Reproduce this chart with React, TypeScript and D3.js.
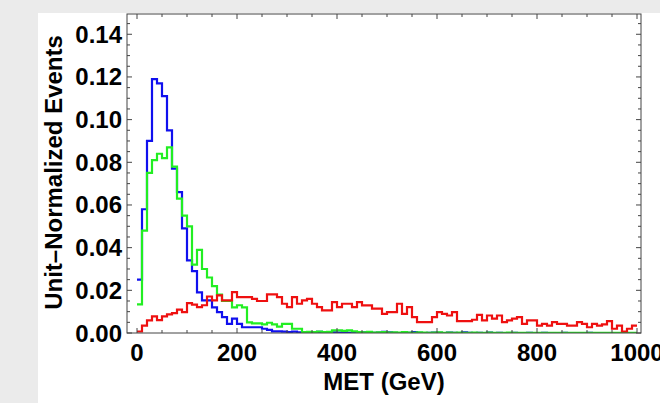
import React from "react";
import * as d3 from "d3";

// Bin edges: 100 bins of 10 GeV from 0 to 1000
const binWidth = 10;
const xTicksMajor = [0, 200, 400, 600, 800, 1000];
const yTicksMajor = [0, 0.02, 0.04, 0.06, 0.08, 0.1, 0.12, 0.14];
const yTickLabels = ["0.00", "0.02", "0.04", "0.06", "0.08", "0.10", "0.12", "0.14"];

const blueValues = [
  0.025, 0.058, 0.09, 0.119, 0.117, 0.111, 0.095, 0.077, 0.066, 0.049,
  0.034, 0.029, 0.019, 0.0153, 0.0153, 0.012, 0.0098, 0.0074, 0.0043, 0.0067,
  0.0043, 0.0027, 0.0027, 0.0027, 0.0027, 0.002, 0.0015, 0.0008, 0.0008, 0.0006,
  0.0004, 0.0006, 0.0003, 0.0004, 0.0002, 0.0003, 0.0005, 0.0002, 0.0001, 0.0003,
  0.0002, 0.0004, 0.0001, 0.0002, 0.0001, 0.0003, 0.0001, 0.0001, 0.0002, 0.0005,
  0.0003, 0.0001, 0.0, 0.0002, 0.0001, 0.0004, 0.0001, 0.0, 0.0001, 0.0002,
  0.0001, 0.0, 0.0002, 0.0001, 0.0, 0.0003, 0.0001, 0.0, 0.0001, 0.0,
  0.0002, 0.0, 0.0001, 0.0, 0.0, 0.0001, 0.0, 0.0, 0.0001, 0.0,
  0.0, 0.0001, 0.0, 0.0, 0.0, 0.0001, 0.0, 0.0, 0.0, 0.0,
  0.0001, 0.0, 0.0, 0.0, 0.0, 0.0, 0.0, 0.0, 0.0, 0.0,
];

const greenValues = [
  0.0134, 0.048, 0.075, 0.081, 0.084, 0.082, 0.087, 0.078, 0.063, 0.055,
  0.05, 0.032, 0.039, 0.03, 0.026, 0.022, 0.018, 0.015, 0.015, 0.012,
  0.013, 0.012, 0.005, 0.0045, 0.0045, 0.004, 0.0048, 0.004, 0.003, 0.0043,
  0.0043, 0.002, 0.002, 0.0004, 0.0005, 0.0004, 0.0006, 0.0004, 0.0005, 0.0012,
  0.0012, 0.001, 0.0012, 0.0008, 0.0004, 0.0003, 0.0005, 0.0002, 0.0003, 0.0004,
  0.0002, 0.0003, 0.0002, 0.0004, 0.0002, 0.0001, 0.0003, 0.0002, 0.0001, 0.0002,
  0.0003, 0.0001, 0.0002, 0.0001, 0.0002, 0.0001, 0.0001, 0.0002, 0.0001, 0.0001,
  0.0002, 0.0001, 0.0001, 0.0001, 0.0002, 0.0001, 0.0001, 0.0001, 0.0001, 0.0001,
  0.0001, 0.0001, 0.0001, 0.0001, 0.0001, 0.0001, 0.0001, 0.0001, 0.0001, 0.0001,
  0.0001, 0.0001, 0.0001, 0.0001, 0.0001, 0.0001, 0.0001, 0.0001, 0.0001, 0.0001,
];

const redValues = [
  0.0007, 0.0035, 0.0059, 0.0078, 0.006, 0.0078, 0.0087, 0.0093, 0.011, 0.0098,
  0.014, 0.0133, 0.0121, 0.013, 0.0171, 0.0153, 0.0176, 0.0153, 0.0153, 0.0192,
  0.0168, 0.0168, 0.0168, 0.016, 0.015, 0.015, 0.0181, 0.0181, 0.0168, 0.0137,
  0.0121, 0.0168, 0.0137, 0.0153, 0.016, 0.0137, 0.0121, 0.0106, 0.0106, 0.0145,
  0.0121, 0.0137, 0.0137, 0.0121, 0.0145, 0.0129, 0.0129, 0.0114, 0.0114, 0.009,
  0.0098, 0.0098, 0.0137, 0.009, 0.0121, 0.0074, 0.0051, 0.0051, 0.0051, 0.0074,
  0.0098, 0.009, 0.0082, 0.0098, 0.0056, 0.0056, 0.0056, 0.0062, 0.0085, 0.0059,
  0.0082, 0.0067, 0.0082, 0.0051, 0.0059, 0.0067, 0.0074, 0.0043, 0.0059, 0.0059,
  0.0035, 0.0043, 0.0035, 0.0051, 0.0043, 0.0043, 0.0035, 0.0035, 0.0051, 0.0043,
  0.0027, 0.0043, 0.0035, 0.004, 0.0056, 0.002, 0.0035, 0.0007, 0.002, 0.0035,
];

const seriesList = [
  { name: "blue", color: "#1010ee", values: blueValues },
  { name: "green", color: "#22ee22", values: greenValues },
  { name: "red", color: "#ee1010", values: redValues },
];

const W = 660;
const H = 403;
const frame = { left: 127, right: 641, top: 14, bottom: 333 };
const FONT = "'Liberation Sans', Arial, sans-serif";

export default function App() {
  const x = d3.scaleLinear().domain([-20, 1008]).range([frame.left, frame.right]);
  const y = d3.scaleLinear().domain([0, 0.1495]).range([frame.bottom, frame.top]);

  const line = d3
    .line<[number, number]>()
    .x((d) => x(d[0]))
    .y((d) => y(d[1]))
    .curve(d3.curveStepAfter);

  const pathFor = (vals: number[]) => {
    const pts: [number, number][] = vals.map((v, i) => [i * binWidth, v]);
    pts.push([vals.length * binWidth, vals[vals.length - 1]]);
    return line(pts) || "";
  };

  const xMinor = d3.range(0, 1001, 50);
  const yMinor = d3.range(0, 0.1496, 0.005);
  const frameColor = "#444";

  return (
    <svg
      width={W}
      height={H}
      style={{ position: "absolute", left: 0, top: 0 }}
      fontFamily={FONT}
    >
      <rect x={0} y={0} width={W} height={H} fill="#ebebeb" />
      <rect x={38} y={13} width={W - 38} height={H - 13} fill="#ffffff" />

      <defs>
        <clipPath id="plotclip">
          <rect
            x={frame.left}
            y={frame.top}
            width={frame.right - frame.left}
            height={frame.bottom - frame.top}
          />
        </clipPath>
      </defs>

      <g clipPath="url(#plotclip)">
        {seriesList.map((s) => (
          <path
            key={s.name}
            d={pathFor(s.values)}
            fill="none"
            stroke={s.color}
            strokeWidth={2.2}
            strokeLinejoin="miter"
          />
        ))}
      </g>

      {/* frame */}
      <rect
        x={frame.left}
        y={frame.top}
        width={frame.right - frame.left}
        height={frame.bottom - frame.top}
        fill="none"
        stroke={frameColor}
        strokeWidth={1}
      />

      {/* x ticks bottom & top */}
      {xMinor.map((t) => {
        const major = t % 200 === 0;
        const len = major ? 5 : 3;
        return (
          <g key={"xt" + t} stroke={frameColor} strokeWidth={1}>
            <line x1={x(t)} x2={x(t)} y1={frame.bottom} y2={frame.bottom - len} />
            <line x1={x(t)} x2={x(t)} y1={frame.top} y2={frame.top + len} />
          </g>
        );
      })}
      {/* y ticks left & right */}
      {yMinor.map((t, i) => {
        const major = i % 4 === 0;
        const len = major ? 5 : 3;
        return (
          <g key={"yt" + i} stroke={frameColor} strokeWidth={1}>
            <line x1={frame.left} x2={frame.left + len} y1={y(t)} y2={y(t)} />
            <line x1={frame.right} x2={frame.right - len} y1={y(t)} y2={y(t)} />
          </g>
        );
      })}

      {/* x tick labels */}
      {xTicksMajor.map((t) => (
        <text
          key={"xl" + t}
          x={x(t)}
          y={361}
          textAnchor="middle"
          fontSize={24}
          fontWeight="bold"
          fill="#000"
        >
          {t}
        </text>
      ))}
      {/* y tick labels */}
      {yTicksMajor.map((t, i) => (
        <text
          key={"yl" + i}
          x={122}
          y={y(t) + 8.5}
          textAnchor="end"
          fontSize={24}
          fontWeight="bold"
          fill="#000"
        >
          {yTickLabels[i]}
        </text>
      ))}

      <text
        x={(frame.left + frame.right) / 2}
        y={390}
        textAnchor="middle"
        fontSize={24}
        fontWeight="bold"
        fill="#000"
      >
        MET (GeV)
      </text>
      <text
        transform={`translate(62,${(frame.top + frame.bottom) / 2 - 1}) rotate(-90)`}
        textAnchor="middle"
        fontSize={24}
        fontWeight="bold"
        fill="#000"
      >
        Unit–Normalized Events
      </text>
    </svg>
  );
}
